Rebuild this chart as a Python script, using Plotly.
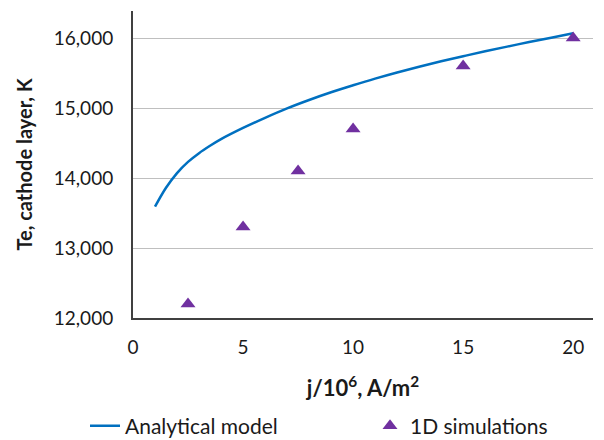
import plotly.graph_objects as go

# Analytical model curve
model_j = [1, 1.5, 2, 2.5, 3, 3.5, 4, 5, 6, 7, 8, 9, 10, 11, 12, 13, 14, 15, 16, 17, 18, 19, 20]
model_te = [13590, 13860, 14070, 14230, 14355, 14460, 14555, 14715, 14860, 14995, 15115,
            15225, 15325, 15420, 15508, 15590, 15667, 15740, 15810, 15877, 15942, 16005, 16067]

# 1D simulations
sim_j = [2.5, 5, 7.5, 10, 15, 20]
sim_te = [12200, 13300, 14100, 14700, 15600, 16000]

y_ticks = [12000, 13000, 14000, 15000, 16000]
y_tick_labels = ["12,000", "13,000", "14,000", "15,000", "16,000"]
x_ticks = [0, 5, 10, 15, 20]

FONT = "Lato, Carlito, Calibri, sans-serif"
TXT = "#1a1a1a"

# page body has an 8px default margin; figure is sized to fit inside the window
W, H = 596, 432

fig = go.Figure()
fig.add_trace(go.Scatter(
    x=model_j, y=model_te, mode="lines", name="Analytical model",
    line=dict(color="#0070C0", width=2.5), line_shape="spline",
    legend="legend",
))
fig.add_trace(go.Scatter(
    x=sim_j, y=sim_te, mode="markers", name="1D simulations",
    marker=dict(symbol="triangle-up", color="#7030A0", size=13),
    legend="legend2",
))

leg_common = dict(
    orientation="h", xref="container", yref="container",
    xanchor="left", yanchor="middle", y=1 - 418 / H,
    font=dict(family=FONT, size=21, color=TXT),
    bgcolor="rgba(0,0,0,0)",
)

fig.update_layout(
    width=W, height=H,
    margin=dict(l=125, r=11, t=3, b=122, autoexpand=False),
    paper_bgcolor="white", plot_bgcolor="white",
    font=dict(family=FONT, size=18, color=TXT),
    showlegend=True,
    legend=dict(leg_common, x=77 / W),
    legend2=dict(leg_common, x=362 / W),
    xaxis=dict(
        range=[0, 20.9], tickvals=x_ticks, ticktext=[str(v) for v in x_ticks],
        showgrid=False, zeroline=False, automargin=False,
        showline=True, linecolor="#404040", linewidth=2,
        ticks="", ticklabelstandoff=11,
        tickfont=dict(family=FONT, size=19, color=TXT),
        title=dict(text="<b>j/10<sup>6</sup>, A/m<sup>2</sup></b>", standoff=24,
                   font=dict(family=FONT, size=22, color=TXT)),
    ),
    yaxis=dict(
        range=[12000, 16386], tickvals=y_ticks, ticktext=y_tick_labels,
        showgrid=True, gridcolor="#bfbfbf", gridwidth=1, zeroline=False, automargin=False,
        showline=True, linecolor="#404040", linewidth=2,
        ticks="", ticklabelstandoff=14,
        tickfont=dict(family=FONT, size=19, color=TXT),
        title=dict(text="<b>Te, cathode layer, K</b>", standoff=16,
                   font=dict(family=FONT, size=20, color=TXT)),
    ),
)

fig.write_html("out.html")
